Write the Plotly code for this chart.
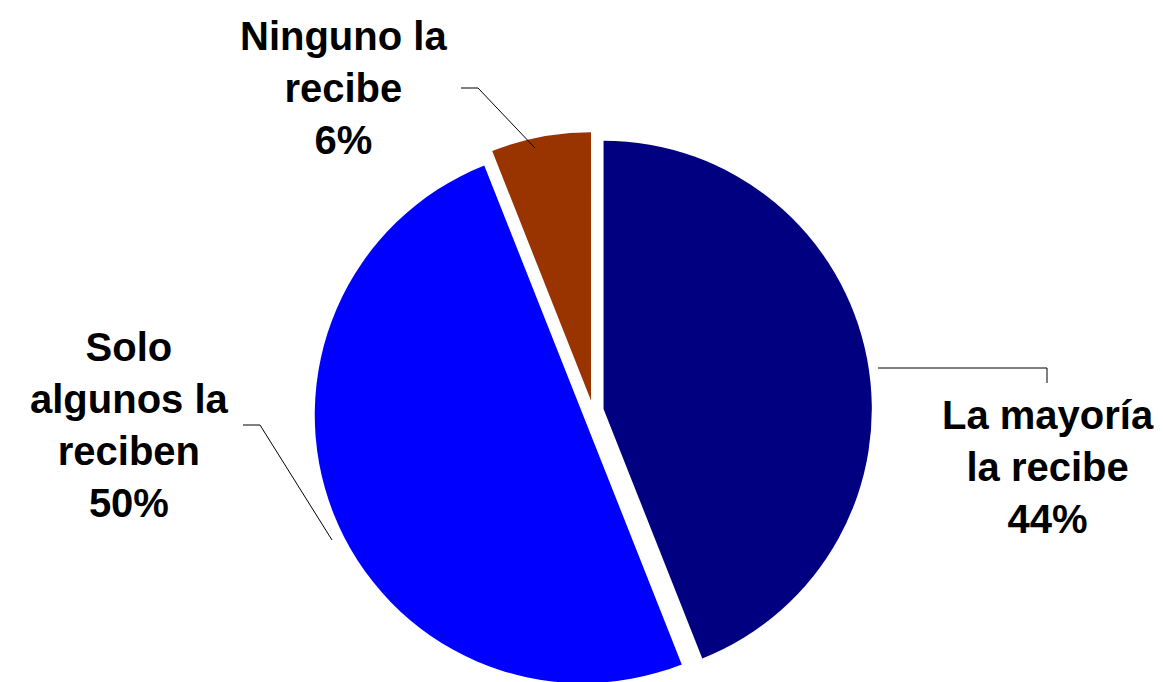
import plotly.graph_objects as go

labels = ["La mayoría la recibe", "Solo algunos la reciben", "Ninguno la recibe"]
values = [44, 50, 6]
colors = ["#000080", "#0000FF", "#993300"]
label_text = ["La mayoría<br>la recibe<br>44%", "Solo<br>algunos la<br>reciben<br>50%", "Ninguno la<br>recibe<br>6%"]

W, H = 1163, 682

fig = go.Figure()
fig.add_trace(go.Pie(
    labels=labels,
    values=values,
    marker=dict(colors=colors, line=dict(width=0)),
    sort=False,
    direction="clockwise",
    rotation=0,
    pull=[0.04, 0.04, 0.04],
    textinfo="none",
    showlegend=False,
    domain=dict(x=[306 / W, 864 / W], y=[0, 558 / H]),
))

font = dict(family="Liberation Sans, Arial, sans-serif", size=40, color="black")

# label positions (paper px)
pos = [(1040, 459), (121, 417), (335, 80)]
for txt, (x, y) in zip(label_text, pos):
    fig.add_annotation(x=x / W, y=1 - y / H, xref="paper", yref="paper",
                       text="<b>" + txt + "</b>", showarrow=False, font=font,
                       align="center", xanchor="center", yanchor="middle")

# leader lines
def px(x, y):
    return f"{x / W},{1 - y / H}"

leaders = [
    [(870, 360), (1039, 360), (1039, 375)],
    [(235, 417), (252, 417), (324, 532)],
    [(453, 80), (470, 80), (527, 140)],
]
for pts in leaders:
    path = "M " + " L ".join(px(*p) for p in pts)
    fig.add_shape(type="path", path=path, xref="paper", yref="paper",
                  line=dict(color="black", width=1))

fig.update_layout(
    width=W, height=H,
    margin=dict(l=0, r=0, t=0, b=0),
    paper_bgcolor="white",
    plot_bgcolor="white",
)

fig.write_html("out.html")
